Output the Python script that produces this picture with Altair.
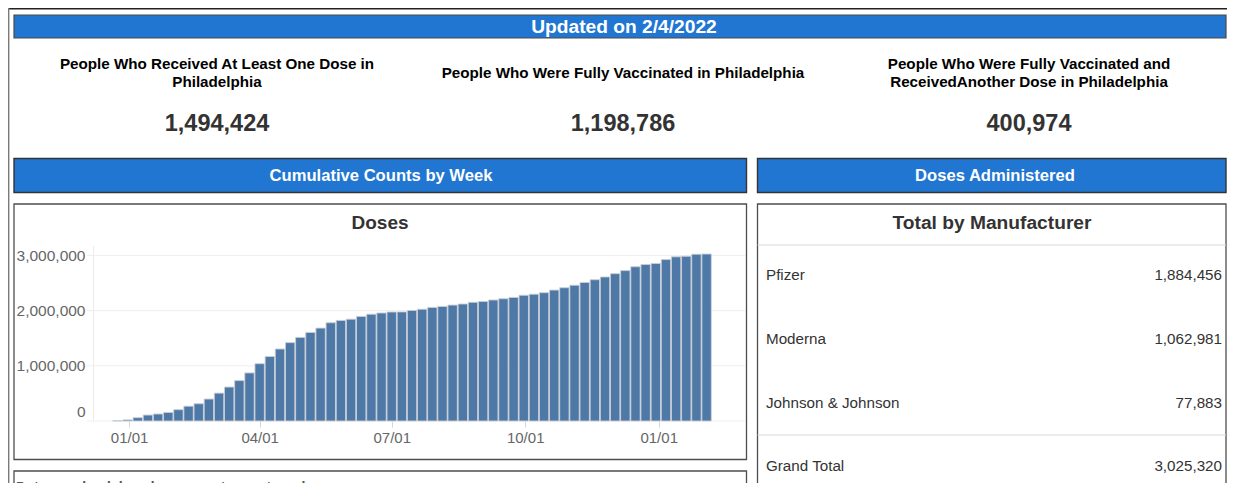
import altair as alt
import pandas as pd

FONT = "Liberation Sans"

# ---------------- data ----------------
header_text = "Updated on 2/4/2022"
kpi_titles = [
    ["People Who Received At Least One Dose in", "Philadelphia"],
    ["People Who Were Fully Vaccinated in Philadelphia"],
    ["People Who Were Fully Vaccinated and", "ReceivedAnother Dose in Philadelphia"],
]
kpi_values = [1494424, 1198786, 400974]
section_titles = ["Cumulative Counts by Week", "Doses Administered"]
chart_title = "Doses"
table_title = "Total by Manufacturer"
manufacturers = ["Pfizer", "Moderna", "Johnson & Johnson"]
manufacturer_doses = [1884456, 1062981, 77883]
grand_total_label = "Grand Total"
footnote = "Data may be delayed over most recent weeks"

first_week = "2020-12-24"
cumulative_doses = [
    5000, 20000, 60000, 108000, 127000, 155000, 205000, 268000, 313000, 398000,
    505000, 615000, 732000, 871000, 1038000, 1168000, 1305000, 1420000, 1515000, 1605000,
    1683000, 1780000, 1822000, 1845000, 1895000, 1935000, 1958000, 1975000, 1977000, 2003000,
    2025000, 2058000, 2076000, 2100000, 2120000, 2150000, 2165000, 2193000, 2215000, 2238000,
    2278000, 2298000, 2325000, 2372000, 2415000, 2460000, 2510000, 2560000, 2610000, 2670000,
    2725000, 2795000, 2835000, 2855000, 2925000, 2975000, 2985000, 3022000, 3025320,
]
x_tick_dates = ["2021-01-01", "2021-04-01", "2021-07-01", "2021-10-01", "2022-01-01"]
y_tick_values = [0, 1000000, 2000000, 3000000]

# ---------------- layout ----------------
W, H = 1219, 500
BLUE = "#2176d2"
RIGHT = 1218


def dt(s, hours=0):
    return alt.DateTime(year=int(s[:4]), month=int(s[5:7]), date=int(s[8:10]), hours=hours, utc=True)


def box(x1, y1, x2, y2, **style):
    return alt.Chart(pd.DataFrame({"k": [0]})).mark_rect(**style).encode(
        x=alt.value(x1), x2=alt.value(x2), y=alt.value(y1), y2=alt.value(y2))


def hline(x1, x2, y, color="#d9d9d9", width=1):
    return alt.Chart(pd.DataFrame({"k": [0]})).mark_rule(color=color, strokeWidth=width).encode(
        x=alt.value(x1), x2=alt.value(x2), y=alt.value(y))


def vline(x, y1, y2, color="#777777", width=1):
    return alt.Chart(pd.DataFrame({"k": [0]})).mark_rule(color=color, strokeWidth=width).encode(
        x=alt.value(x), y=alt.value(y1), y2=alt.value(y2))


def label(text, x, y, size, color="#000000", weight="bold", align="center", baseline="middle"):
    return alt.Chart(pd.DataFrame({"t": [text]})).mark_text(
        font=FONT, fontSize=size, fontWeight=weight, color=color, align=align, baseline=baseline
    ).encode(x=alt.value(x), y=alt.value(y), text="t:N")


layers = []

# outer frame (top and left edges visible in the window)
layers.append(hline(0, W, 0.7, color="#222222", width=1.4))
layers.append(vline(0.7, 0, H, color="#7a7a7a", width=1.4))

# header
layers.append(box(6, 7, RIGHT, 30, fill=BLUE, stroke="#4a4a4a", strokeWidth=1.2))
layers.append(label(header_text, 616, 19, 19.2, color="white"))

# KPIs
kpi_x = [209, 615, 1021]
for cx, lines, val in zip(kpi_x, kpi_titles, kpi_values):
    if len(lines) == 2:
        layers.append(label(lines[0], cx, 56, 15.2))
        layers.append(label(lines[1], cx, 73.5, 15.2))
    else:
        layers.append(label(lines[0], cx, 64.5, 15.2))
    layers.append(label(f"{val:,}", cx, 116, 23.5, color="#333333"))

# section headers
layers.append(box(6, 150.5, 738.5, 184.5, fill=BLUE, stroke="#333333", strokeWidth=1.4))
layers.append(box(749.5, 150.5, RIGHT, 184.5, fill=BLUE, stroke="#333333", strokeWidth=1.4))
layers.append(label(section_titles[0], 373, 168, 16.6, color="white"))
layers.append(label(section_titles[1], 987, 168, 16.6, color="white"))

# panels
panel_style = dict(fill="white", fillOpacity=0, stroke="#4d4d4d", strokeWidth=1.3)
layers.append(box(6, 196, 738.5, 451.5, **panel_style))
layers.append(box(749.5, 196, RIGHT, 530, **panel_style))
layers.append(box(6, 463, 738.5, 530, **panel_style))

# bar chart
bars_df = pd.DataFrame({
    "week": pd.date_range(first_week, periods=len(cumulative_doses), freq="7D").strftime("%Y-%m-%d"),
    "doses": cumulative_doses,
})
grid_df = pd.DataFrame({"doses": y_tick_values})

xscale = alt.Scale(type="utc", domain=[dt("2020-12-10", 14), dt("2022-02-22", 14)],
                   range=[85, 732], nice=False)
yscale = alt.Scale(domain=[0, 3180000], range=[413, 237.5], nice=False, zero=True)
yaxis = alt.Axis(orient="left", offset=-85, values=y_tick_values, format=",d", grid=False,
                 ticks=False, domain=True, domainColor="#ebebeb", labelFont=FONT, labelFontSize=15.5,
                 labelColor="#666666", labelPadding=8,
                 labelOffset={"condition": {"test": "datum.value === 0", "value": -10}, "value": 0},
                 title=None)
xaxis = alt.Axis(orient="bottom", offset=-(H - 413), values=[dt(d) for d in x_tick_dates],
                 format="%m/%d", grid=False, domain=False, ticks=True, tickColor="#d6d6d6",
                 tickSize=6, labelFont=FONT, labelFontSize=15, labelColor="#666666", labelPadding=3,
                 title=None)

grid = alt.Chart(grid_df).mark_rule(color="#eeeeee", strokeWidth=1).encode(
    y=alt.Y("doses:Q", scale=yscale, axis=yaxis), x=alt.value(79), x2=alt.value(737))
bars = alt.Chart(bars_df).mark_bar(size=9.4, color="#4e79a7", stroke="#c9ced6", strokeWidth=0.9).encode(
    x=alt.X("week:T", scale=xscale, axis=xaxis),
    y=alt.Y("doses:Q", scale=yscale, axis=yaxis),
)
layers.append(grid)
layers.append(bars)
layers.append(label(chart_title, 372, 215, 19, color="#333333"))

# manufacturer table
layers.append(label(table_title, 984, 215, 19.2, color="#333333"))
layers.append(hline(749.5, RIGHT, 237))
layers.append(hline(749.5, RIGHT, 427))
row_y = [267, 331, 394.5]
VAL_X = RIGHT - 4
for name, val, ry in zip(manufacturers, manufacturer_doses, row_y):
    layers.append(label(name, 758, ry, 15.2, color="#333333", weight="normal", align="left"))
    layers.append(label(f"{val:,}", VAL_X, ry, 15.2, color="#333333", weight="normal", align="right"))
layers.append(label(grand_total_label, 758, 457.5, 15.2, color="#333333", weight="normal", align="left"))
layers.append(label(f"{sum(manufacturer_doses):,}", VAL_X, 457.5, 15.2, color="#333333", weight="normal",
                    align="right"))

# footnote (cut off by the window, as in the reference)
layers.append(label(footnote, 8, 484, 14, color="#555555", align="left", baseline="alphabetic"))

chart = alt.layer(*layers).properties(
    width=W, height=H, autosize=alt.AutoSizeParams(type="none"), padding=0
).configure_view(strokeWidth=0).configure(background="white")

chart.save("out.html", embed_options={"renderer": "svg", "actions": False})
